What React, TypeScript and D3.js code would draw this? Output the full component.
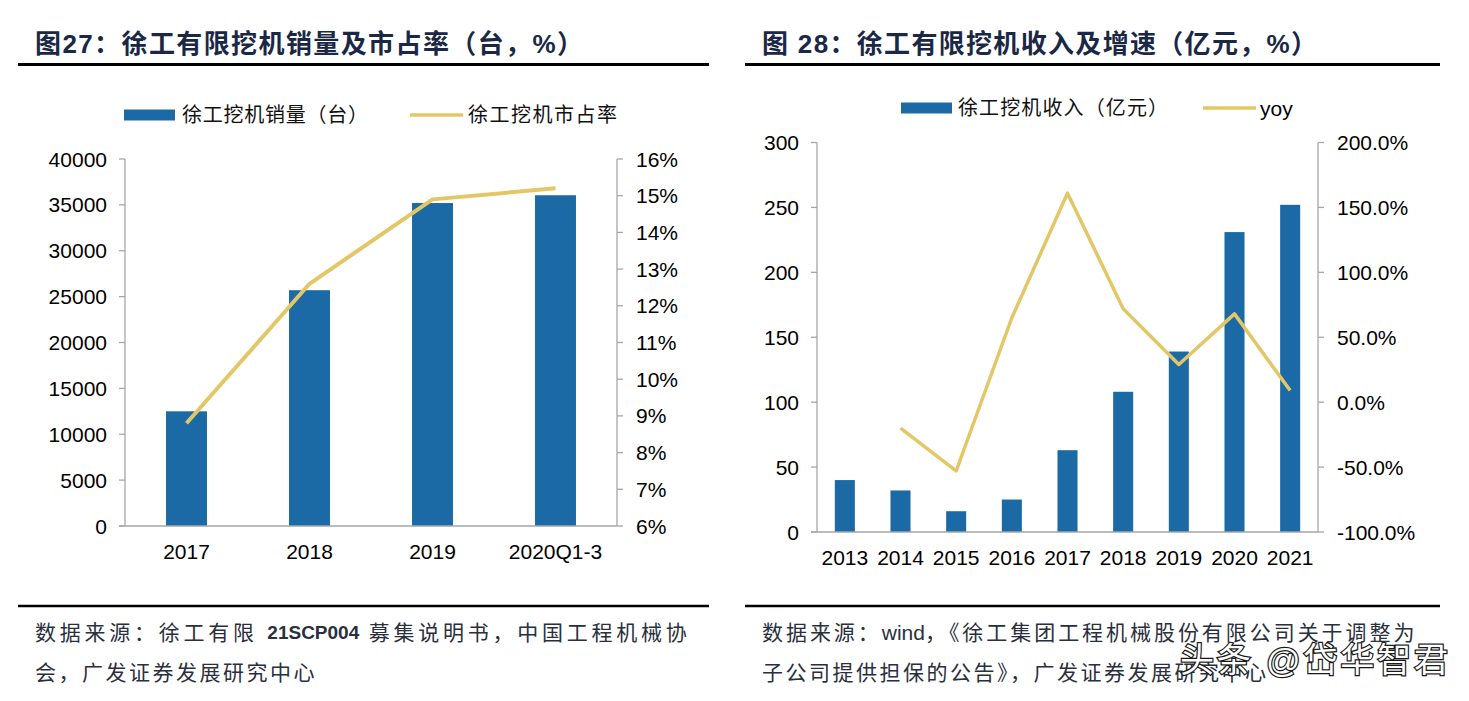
import React from 'react';
import * as d3 from 'd3';

// ---------- data ----------
const leftCategories = ['2017', '2018', '2019', '2020Q1-3'];
const leftSales = [12500, 25700, 35200, 36050];
const leftShare = [8.8, 12.6, 14.9, 15.2];
const leftSalesTicks = [0, 5000, 10000, 15000, 20000, 25000, 30000, 35000, 40000];
const leftShareTicks = [6, 7, 8, 9, 10, 11, 12, 13, 14, 15, 16];

const rightCategories = ['2013', '2014', '2015', '2016', '2017', '2018', '2019', '2020', '2021'];
const rightRevenue = [40, 32, 16, 25, 63, 108, 139, 231, 252];
const rightYoy: (number | null)[] = [null, -20, -53, 65, 161, 72, 29, 68, 9];
const rightRevenueTicks = [0, 50, 100, 150, 200, 250, 300];
const rightYoyTicks = [-100, -50, 0, 50, 100, 150, 200];

const leftTitle = '图27：徐工有限挖机销量及市占率（台，%）';
const rightTitle = '图 28：徐工有限挖机收入及增速（亿元，%）';
const leftLegend = ['徐工挖机销量（台）', '徐工挖机市占率'];
const rightLegend = ['徐工挖机收入（亿元）', 'yoy'];
// each source line is split into [CJK, Latin, CJK] runs
const leftSource1 = ['数据来源：徐工有限 ', '21SCP004', ' 募集说明书，中国工程机械协'];
const leftSource2 = '会，广发证券发展研究中心';
const rightSource1 = ['数据来源：', 'wind', '，《徐工集团工程机械股份有限公司关于调整为'];
const rightSource2 = '子公司提供担保的公告》，广发证券发展研究中心';
const watermark = '头条 @岱华智君';

// ---------- styles ----------
const BLUE = '#1c6aa5';
const GOLD = '#e3c766';
const AXIS = '#a6a6a6';
const FONT = '"Liberation Sans", Arial, "Noto Sans CJK SC", sans-serif';
const TITLE_COLOR = '#1b2845';
const SRC_COLOR = '#2a2f3d';

function Panel(props: {
  cats: string[];
  bars: number[];
  line: (number | null)[];
  leftTicks: number[];
  rightTicks: number[];
  leftFmt: (v: number) => string;
  rightFmt: (v: number) => string;
  x0: number; x1: number; yTop: number; yBot: number;
  padding: number;
  labelY: number;
  lineWidth: number;
}) {
  const { cats, bars, line, leftTicks, rightTicks, leftFmt, rightFmt, x0, x1, yTop, yBot, padding, labelY, lineWidth } = props;
  const x = d3.scaleBand<string>().domain(cats).range([x0, x1]).paddingInner(padding).paddingOuter(padding / 2);
  const yL = d3.scaleLinear().domain([leftTicks[0], leftTicks[leftTicks.length - 1]]).range([yBot, yTop]);
  const yR = d3.scaleLinear().domain([rightTicks[0], rightTicks[rightTicks.length - 1]]).range([yBot, yTop]);
  const lineGen = d3.line<[string, number | null]>()
    .defined(d => d[1] !== null)
    .x(d => (x(d[0]) as number) + x.bandwidth() / 2)
    .y(d => yR(d[1] as number));
  const pts: [string, number | null][] = cats.map((c, i) => [c, line[i]]);
  return (
    <g>
      {bars.map((v, i) => (
        <rect key={cats[i]} x={x(cats[i])} y={yL(v)} width={x.bandwidth()} height={yL(0) - yL(v)} fill={BLUE} />
      ))}
      {/* left axis */}
      <line x1={x0} x2={x0} y1={yTop} y2={yBot} stroke={AXIS} strokeWidth={1.3} />
      {leftTicks.map(t => (
        <g key={'l' + t}>
          <line x1={x0 - 6} x2={x0} y1={yL(t)} y2={yL(t)} stroke={AXIS} strokeWidth={1.3} />
          <text x={x0 - 18} y={yL(t)} textAnchor="end" dominantBaseline="central" fontSize={21} fontFamily={FONT} fill="#000">{leftFmt(t)}</text>
        </g>
      ))}
      {/* right axis */}
      <line x1={x1} x2={x1} y1={yTop} y2={yBot} stroke={AXIS} strokeWidth={1.3} />
      {rightTicks.map(t => (
        <g key={'r' + t}>
          <line x1={x1} x2={x1 + 6} y1={yR(t)} y2={yR(t)} stroke={AXIS} strokeWidth={1.3} />
          <text x={x1 + 19} y={yR(t)} textAnchor="start" dominantBaseline="central" fontSize={21} fontFamily={FONT} fill="#000">{rightFmt(t)}</text>
        </g>
      ))}
      {/* x axis */}
      <line x1={x0 - 6} x2={x1} y1={yBot} y2={yBot} stroke={AXIS} strokeWidth={1.6} />
      {cats.map(c => (
        <text key={'x' + c} x={(x(c) as number) + x.bandwidth() / 2} y={labelY} textAnchor="middle" dominantBaseline="central" fontSize={21} fontFamily={FONT} fill="#000">{c}</text>
      ))}
      <path d={lineGen(pts) || ''} fill="none" stroke={GOLD} strokeWidth={lineWidth} strokeLinejoin="round" />
    </g>
  );
}

const srcStyle = { letterSpacing: '2.5px' } as React.CSSProperties;
const srcStyleL1 = { letterSpacing: '3.75px' } as React.CSSProperties;
const srcStyleR1 = { letterSpacing: '2.95px' } as React.CSSProperties;
const latinStyle = { letterSpacing: '0px' } as React.CSSProperties;

export default function App() {
  return (
    <svg width={1469} height={701} style={{ position: 'absolute', left: 0, top: 0, background: '#fff' }}>
      <rect x={0} y={0} width={1469} height={701} fill="#fff" />
      {/* titles */}
      <text x={35} y={44} dominantBaseline="central" fontSize={26} fontWeight="bold" fontFamily={FONT} fill={TITLE_COLOR} textLength={548} lengthAdjust="spacing">{leftTitle}</text>
      <text x={762} y={44} dominantBaseline="central" fontSize={26} fontWeight="bold" fontFamily={FONT} fill={TITLE_COLOR} textLength={555} lengthAdjust="spacing">{rightTitle}</text>
      <line x1={18} x2={709} y1={64.5} y2={64.5} stroke="#000" strokeWidth={3} />
      <line x1={745} x2={1440} y1={64.5} y2={64.5} stroke="#000" strokeWidth={3} />

      {/* left legend */}
      <rect x={124} y={109.5} width={51} height={11} fill={BLUE} />
      <text x={182} y={115} dominantBaseline="central" fontSize={20} fontFamily={FONT} fill="#111" textLength={186} lengthAdjust="spacing">{leftLegend[0]}</text>
      <line x1={410} x2={463} y1={115} y2={115} stroke={GOLD} strokeWidth={3.5} />
      <text x={468} y={115} dominantBaseline="central" fontSize={20} fontFamily={FONT} fill="#111" textLength={149} lengthAdjust="spacing">{leftLegend[1]}</text>

      {/* right legend */}
      <rect x={901} y={102.5} width={51} height={11} fill={BLUE} />
      <text x={958} y={108} dominantBaseline="central" fontSize={20} fontFamily={FONT} fill="#111" textLength={210} lengthAdjust="spacing">{rightLegend[0]}</text>
      <line x1={1203} x2={1256} y1={108} y2={108} stroke={GOLD} strokeWidth={3.5} />
      <text x={1260} y={108} dominantBaseline="central" fontSize={21} fontFamily={FONT} fill="#000">{rightLegend[1]}</text>

      <Panel
        cats={leftCategories} bars={leftSales} line={leftShare}
        leftTicks={leftSalesTicks} rightTicks={leftShareTicks}
        leftFmt={v => String(v)} rightFmt={v => v + '%'}
        x0={125} x1={617} yTop={159} yBot={526} padding={0.667} labelY={551} lineWidth={4}
      />
      <Panel
        cats={rightCategories} bars={rightRevenue} line={rightYoy}
        leftTicks={rightRevenueTicks} rightTicks={rightYoyTicks}
        leftFmt={v => String(v)} rightFmt={v => v.toFixed(1) + '%'}
        x0={817} x1={1318} yTop={142.5} yBot={532} padding={0.64} labelY={557} lineWidth={3.5}
      />

      {/* source */}
      <line x1={18} x2={709} y1={606} y2={606} stroke="#000" strokeWidth={2.5} />
      <line x1={745} x2={1440} y1={606} y2={606} stroke="#000" strokeWidth={2.5} />
      <text x={35} y={632} dominantBaseline="central" fontSize={21} fontFamily={FONT} fill={SRC_COLOR} style={srcStyleL1}>
        <tspan>{leftSource1[0]}</tspan>
        <tspan fontWeight="bold" fontSize={19} style={latinStyle}>{leftSource1[1]}</tspan>
        <tspan>{leftSource1[2]}</tspan>
      </text>
      <text x={35} y={672} dominantBaseline="central" fontSize={21} fontFamily={FONT} fill={SRC_COLOR} style={srcStyle}>{leftSource2}</text>
      <text x={762} y={632} dominantBaseline="central" fontSize={21} fontFamily={FONT} fill={SRC_COLOR} style={srcStyleR1}>
        <tspan>{rightSource1[0]}</tspan>
        <tspan style={latinStyle}>{rightSource1[1]}</tspan>
        <tspan>{rightSource1[2]}</tspan>
      </text>
      <text x={762} y={672} dominantBaseline="central" fontSize={21} fontFamily={FONT} fill={SRC_COLOR} style={srcStyle}>{rightSource2}</text>

      {/* watermark */}
      <text x={1180} y={660} dominantBaseline="central" fontSize={34} fontFamily={FONT} fill="#fff" stroke="#1a1a1a" strokeWidth={2.5} style={{ paintOrder: 'stroke' }} textLength={268} lengthAdjust="spacing">{watermark}</text>
    </svg>
  );
}
